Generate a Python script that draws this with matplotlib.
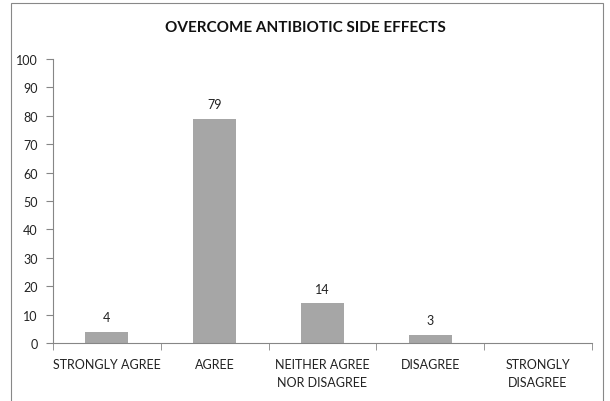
import matplotlib.pyplot as plt
import numpy as np
from matplotlib.patches import Rectangle

# data
categories = ['STRONGLY AGREE', 'AGREE', 'NEITHER AGREE\nNOR DISAGREE', 'DISAGREE', 'STRONGLY\nDISAGREE']
values = [4, 79, 14, 3, 0]

plt.rcParams['font.family'] = ['Lato', 'DejaVu Sans']

fig = plt.figure(figsize=(6.1, 4.02), dpi=100)
ax = fig.add_axes([0.087, 0.144, 0.883, 0.707])

x = np.arange(len(categories))
bars = ax.bar(x, values, width=0.4, color='#a6a6a6')

# value labels (no label for empty bar)
for xi, v in zip(x, values):
    if v > 0:
        ax.text(xi, v + 3, str(v), ha='center', va='bottom', fontsize=9, color='#222222')

ax.set_xlim(-0.5, len(categories) - 0.5)
ax.set_ylim(0, 100)
ax.set_yticks(np.arange(0, 101, 10))
ax.set_xticks(x)
ax.set_xticklabels(categories, fontsize=9, color='#222222', linespacing=1.55)
ax.set_xticks(np.arange(-0.5, len(categories)), minor=True)
ax.tick_params(axis='x', which='major', length=0, pad=11)
ax.tick_params(axis='x', which='minor', length=5, color='#868686', direction='out')
ax.tick_params(axis='y', length=5, color='#868686', labelsize=9, labelcolor='#222222', pad=6)
for s in ['top', 'right']:
    ax.spines[s].set_visible(False)
for s in ['left', 'bottom']:
    ax.spines[s].set_color('#868686')

fig.text(0.5, 0.93, 'OVERCOME ANTIBIOTIC SIDE EFFECTS', ha='center', va='center',
         fontsize=11, fontweight='bold', color='#111111')

# chart border
fig.patches.append(Rectangle((11 / 610, -0.01), 592 / 610, 1 - 4 / 402 + 0.01, transform=fig.transFigure,
                             fill=False, edgecolor='#888888', linewidth=0.8))

fig.savefig('out.png', dpi=100)
